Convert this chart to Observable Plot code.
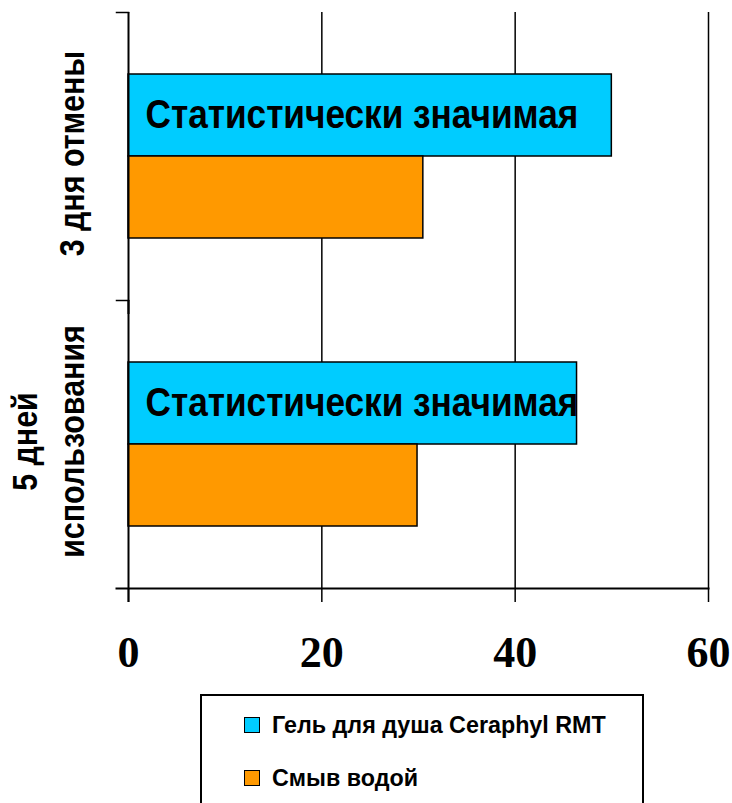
<!DOCTYPE html>
<html>
<head>
<meta charset="utf-8">
<script src="https://cdn.jsdelivr.net/npm/d3@7"></script>
<script src="https://cdn.jsdelivr.net/npm/@observablehq/plot@0.6"></script>
<style>
  html, body { margin: 0; padding: 0; background: #fff; }
  #chart svg { display: block; overflow: visible; }
  #legend {
    margin-left: 200px; margin-top: 2px; height: 130px; width: 444px;
    border: 2px solid #000; box-sizing: border-box; padding: 21px 0 0 42px;
    font-family: "Liberation Sans", Arial, sans-serif;
    font-weight: bold; font-size: 23.3px; color: #000;
  }
  .row { display: flex; align-items: center; height: 16px; margin-bottom: 37px; line-height: 16px; }
  .sw { width: 14px; height: 14px; border: 1px solid #000; margin-right: 12px; flex: none; }
</style>
</head>
<body>
<div id="chart"></div>
<div id="legend"></div>
<script>
const categories = ["3 дня отмены", "5 дней использования"];
const categoryLabels = ["3 дня отмены", "5 дней\nиспользования"];
const series = ["Гель для душа Ceraphyl RMT", "Смыв водой"];
const gelValues = [50.0, 46.4];
const waterValues = [30.5, 29.9];
const annotations = ["Статистически значимая", "Статистически значимая"];
const xTicks = [0, 20, 40, 60];
const colors = ["#00CCFF", "#FF9900"];

const data = categories.flatMap((c, i) => [
  {cat: c, series: series[0], value: gelValues[i]},
  {cat: c, series: series[1], value: waterValues[i]}
]);
const labelData = categories.map((c, i) => ({cat: c, label: categoryLabels[i]}));
const noteData = categories.map((c, i) => ({cat: c, series: series[0], text: annotations[i]}));

const sans = '"Liberation Sans", Arial, sans-serif';

const chart = Plot.plot({
  width: 732,
  height: 692,
  marginLeft: 128,
  marginRight: 24,
  marginTop: 12,
  marginBottom: 104,
  style: {background: "#fff", color: "#000", overflow: "visible"},
  x: {domain: [0, 60]},
  y: {domain: series, paddingInner: 0, paddingOuter: 0.756, align: 0.5, axis: null},
  fy: {domain: categories, padding: 0, axis: null},
  color: {domain: series, range: colors},
  marks: [
    Plot.ruleX(xTicks.filter(d => d > 0), {stroke: "#000", strokeWidth: 1.5}),
    Plot.barX(data, {fy: "cat", y: "series", x: "value", fill: "series", stroke: "#000", strokeWidth: 1.5}),
    Plot.text(noteData, {fy: "cat", y: "series", frameAnchor: "left", dx: 17, text: "text",
      textAnchor: "start", fontSize: 40, fontWeight: "bold", fontFamily: sans, fill: "#000",
      className: "note"}),
    Plot.text(labelData, {fy: "cat", frameAnchor: "left", dx: -45, dy: -3, text: "label", rotate: -90,
      textAnchor: "middle", lineAnchor: "bottom", lineHeight: 1.3,
      fontSize: 36, fontWeight: "bold", fontFamily: sans, fill: "#000", className: "catlabel"}),
    Plot.ruleX([0], {stroke: "#000", strokeWidth: 2, insetBottom: -14}),
    Plot.frame({anchor: "top", insetLeft: -12, insetRight: 580, stroke: "#000", strokeWidth: 1.5}),
    Plot.frame({anchor: "bottom", facetAnchor: "bottom", insetLeft: -12, stroke: "#000", strokeWidth: 2}),
    Plot.axisX({ticks: xTicks, tickSize: 14, tickPadding: 33, tickFormat: d => String(d),
      fontSize: 44, fontWeight: "bold", fontFamily: '"Liberation Serif", "Times New Roman", serif',
      stroke: "#000", strokeWidth: 1.5, strokeOpacity: 1, label: null})
  ]
});
// condense the chart's sans-serif text along its writing direction, as in the original
d3.select(chart).selectAll(".note text").attr("transform", function() {
  return (this.getAttribute("transform") || "") + " scale(0.88,1)";
});
d3.select(chart).selectAll(".catlabel text").attr("transform", function() {
  return (this.getAttribute("transform") || "") + " scale(0.845,1)";
});
document.getElementById("chart").appendChild(chart);

const legend = document.getElementById("legend");
series.forEach((s, i) => {
  const row = document.createElement("div");
  row.className = "row";
  const sw = document.createElement("span");
  sw.className = "sw";
  sw.style.background = colors[i];
  const t = document.createElement("span");
  t.textContent = s;
  row.appendChild(sw);
  row.appendChild(t);
  legend.appendChild(row);
});
</script>
</body>
</html>
